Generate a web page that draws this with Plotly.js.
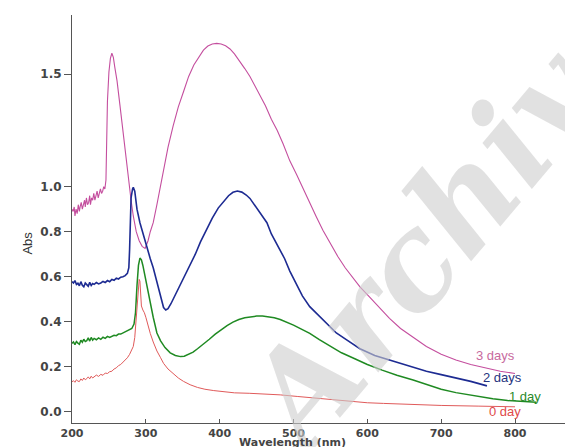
<!DOCTYPE html>
<html>
<head>
<meta charset="utf-8">
<script src="https://cdn.plot.ly/plotly-3.0.1.min.js"></script>
<style>html,body{margin:0;padding:0;background:#fff}#chart{width:565px;height:447px}</style>
</head>
<body>
<div id="chart"></div>
<script>
// ---- data ----
const seriesNames = ["3 days", "2 days", "1 day", "0 day"];

const wl3 = [200,201.5,203,204,205.5,207,208.5,210,211,212.5,214,215.5,217,218,219.5,221,222.5,224,225,226.5,228,229.5,231,232.5,234,235.5,237,238.5,240,241.5,243,244.5,246,
  247,248,250,252,254,256,258,261,265,268,272,276,280,283,287,291,295,299,303,306,310,315,320,325,330,337,344,351,358,365,372,378,384,390,396,402,408,414,420,427,434,441,448,455,462,470,478,486,495,504,513,522,531,540,550,560,570,580,590,600,615,630,645,660,680,700,720,740,760,780,800];
const abs3 = [0.90,0.89,0.91,0.87,0.90,0.88,0.92,0.89,0.91,0.93,0.90,0.92,0.94,0.91,0.95,0.92,0.93,0.96,0.92,0.95,0.94,0.97,0.94,0.96,0.98,0.95,0.97,0.99,0.97,0.98,1.00,0.99,1.03,
  1.18,1.38,1.51,1.57,1.593,1.575,1.53,1.47,1.36,1.27,1.16,1.05,0.94,0.87,0.80,0.76,0.735,0.726,0.76,0.80,0.84,0.92,1.01,1.10,1.175,1.27,1.355,1.422,1.49,1.541,1.58,1.607,1.625,1.634,1.637,1.634,1.626,1.612,1.59,1.56,1.525,1.49,1.445,1.405,1.36,1.30,1.25,1.19,1.115,1.055,0.99,0.925,0.865,0.805,0.745,0.69,0.64,0.595,0.555,0.52,0.465,0.415,0.37,0.335,0.29,0.255,0.23,0.21,0.195,0.18,0.17];

const wl2 = [200,202,204,206,208,210,212,214,216,218,220,222,224,226,228,230,233,236,239,242,245,248,251,254,257,260,263,266,269,272,275,277,278,279,280,282,283,285,288,292,297,302,306,310,314,318,321,324,327,330,334,340,346,352,360,367,374,382,390,398,405,412,418,424,430,436,441,446,452,458,464,470,480,488,495,503,512,522,532,545,558,572,590,610,630,650,662,680,700,720,740,762];
const abs2 = [0.578,0.572,0.583,0.566,0.571,0.560,0.578,0.562,0.555,0.572,0.565,0.558,0.575,0.561,0.570,0.566,0.574,0.568,0.572,0.579,0.574,0.583,0.578,0.588,0.584,0.594,0.59,0.598,0.60,0.605,0.615,0.64,0.72,0.85,0.95,0.99,0.997,0.98,0.90,0.84,0.78,0.72,0.68,0.64,0.59,0.53,0.49,0.463,0.452,0.458,0.48,0.52,0.565,0.605,0.652,0.70,0.755,0.81,0.86,0.905,0.935,0.96,0.975,0.981,0.976,0.963,0.948,0.925,0.895,0.87,0.84,0.79,0.73,0.68,0.625,0.57,0.515,0.467,0.435,0.39,0.35,0.319,0.28,0.25,0.23,0.21,0.20,0.18,0.165,0.15,0.135,0.115];

const wl1 = [200,202,204,206,208,210,212,214,216,218,220,222,224,226,228,230,233,236,239,242,245,248,251,254,257,260,263,266,269,272,275,278,281,284,286,288,290,292,294,296,299,302,306,310,315,320,326,333,340,347,352,358,364,370,378,386,394,402,410,418,426,434,442,450,458,466,474,482,490,500,510,522,535,550,565,580,600,620,640,662,680,700,720,740,753,770,790,810,829];
const abs1 = [0.304,0.31,0.298,0.312,0.305,0.30,0.318,0.309,0.322,0.312,0.316,0.328,0.314,0.33,0.318,0.326,0.32,0.328,0.322,0.331,0.326,0.335,0.33,0.336,0.34,0.338,0.345,0.345,0.35,0.355,0.36,0.365,0.37,0.39,0.44,0.56,0.65,0.683,0.675,0.65,0.60,0.55,0.48,0.42,0.35,0.315,0.285,0.262,0.25,0.245,0.247,0.255,0.265,0.28,0.30,0.322,0.345,0.365,0.383,0.398,0.41,0.418,0.423,0.425,0.425,0.422,0.418,0.41,0.40,0.385,0.368,0.348,0.32,0.29,0.262,0.24,0.21,0.185,0.162,0.141,0.12,0.10,0.085,0.073,0.067,0.058,0.05,0.045,0.042];

const wl0 = [200,202,204,206,208,210,212,214,216,218,220,222,224,226,228,230,233,236,239,242,245,248,251,254,257,260,263,266,269,272,275,278,281,283,285,287,289,291,292,293,294,296,298,300,303,306,310,315,320,324,330,337,344,351,360,370,380,392,405,420,440,459,482,505,530,554,580,600,622,660,700,750,800];
const abs0 = [0.133,0.138,0.131,0.142,0.136,0.134,0.146,0.139,0.15,0.142,0.147,0.155,0.146,0.158,0.15,0.156,0.163,0.157,0.166,0.162,0.172,0.17,0.178,0.18,0.19,0.195,0.205,0.21,0.22,0.228,0.24,0.255,0.275,0.29,0.33,0.42,0.53,0.588,0.58,0.52,0.47,0.452,0.44,0.42,0.38,0.348,0.31,0.27,0.24,0.215,0.19,0.17,0.15,0.135,0.12,0.108,0.10,0.094,0.088,0.084,0.082,0.079,0.075,0.068,0.06,0.052,0.045,0.04,0.037,0.032,0.028,0.025,0.022];

const yTickVals = [0.0, 0.2, 0.4, 0.6, 0.8, 1.0, 1.5];
const yTickText = ["0.0", "0.2", "0.4", "0.6", "0.8", "1.0", "1.5"];
const xTickVals = [200, 300, 400, 500, 600, 700, 800];

const colors = ["#c44e9e", "#1d2b92", "#1f8a22", "#e05a5a"];
const labelColors = ["#c86a9e", "#26347e", "#2a8a2a", "#e04a4a"];
const labelPos = [[774, 0.248], [783, 0.150], [813, 0.070], [786, 0.000]];

const traces = [
  {x: wl3, y: abs3, name: seriesNames[0], type: "scatter", mode: "lines", line: {color: colors[0], width: 1.1}},
  {x: wl2, y: abs2, name: seriesNames[1], type: "scatter", mode: "lines", line: {color: colors[1], width: 1.6}},
  {x: wl1, y: abs1, name: seriesNames[2], type: "scatter", mode: "lines", line: {color: colors[2], width: 1.5}},
  {x: wl0, y: abs0, name: seriesNames[3], type: "scatter", mode: "lines", line: {color: colors[3], width: 1.0}}
];

const annotations = [];
annotations.push({
  x: 0.76, y: 0.50, xref: "paper", yref: "paper", xanchor: "center", yanchor: "middle",
  text: "<b><i>Archive</i></b>", textangle: -50, showarrow: false,
  font: {family: "DejaVu Serif, serif", size: 130, color: "rgba(205,205,205,0.6)"}
});
seriesNames.forEach((n, i) => annotations.push({
  x: labelPos[i][0], y: labelPos[i][1], xref: "x", yref: "y", text: n, showarrow: false,
  font: {family: "Liberation Sans, Arial, sans-serif", size: 13, color: labelColors[i]}
}));
annotations.push({
  x: 0.448, y: 0, xref: "paper", yref: "paper", yshift: -19, yanchor: "middle", text: "Wavelength (nm)", showarrow: false,
  font: {family: "DejaVu Sans, sans-serif", size: 11, color: "#444", weight: "bold"}
});
annotations.push({
  x: -0.1095, y: 0.441, xref: "paper", yref: "paper", text: "Abs", textangle: -90, showarrow: false,
  font: {family: "Liberation Sans, Arial, sans-serif", size: 13, color: "#333"}
});

const layout = {
  width: 565, height: 447,
  margin: {l: 72, r: 0, t: 15, b: 24},
  paper_bgcolor: "#fff", plot_bgcolor: "#fff",
  showlegend: false,
  xaxis: {
    range: [200, 867.7], tickvals: xTickVals, ticks: "inside", ticklen: 4, tickcolor: "#555",
    showgrid: false, zeroline: false, showline: true, linecolor: "#555", linewidth: 1,
    tickfont: {family: "DejaVu Sans, sans-serif", size: 11, color: "#444", weight: "bold"}
  },
  yaxis: {
    range: [-0.05, 1.763], tickvals: yTickVals, ticktext: yTickText, ticks: "outside", ticklen: 7, tickcolor: "#555",
    showgrid: false, zeroline: false, showline: true, linecolor: "#555", linewidth: 1,
    tickfont: {family: "DejaVu Sans, sans-serif", size: 12, color: "#444", weight: "bold"}
  },
  annotations: annotations
};

Plotly.newPlot("chart", traces, layout, {displayModeBar: false, staticPlot: true});
</script>
</body>
</html>
